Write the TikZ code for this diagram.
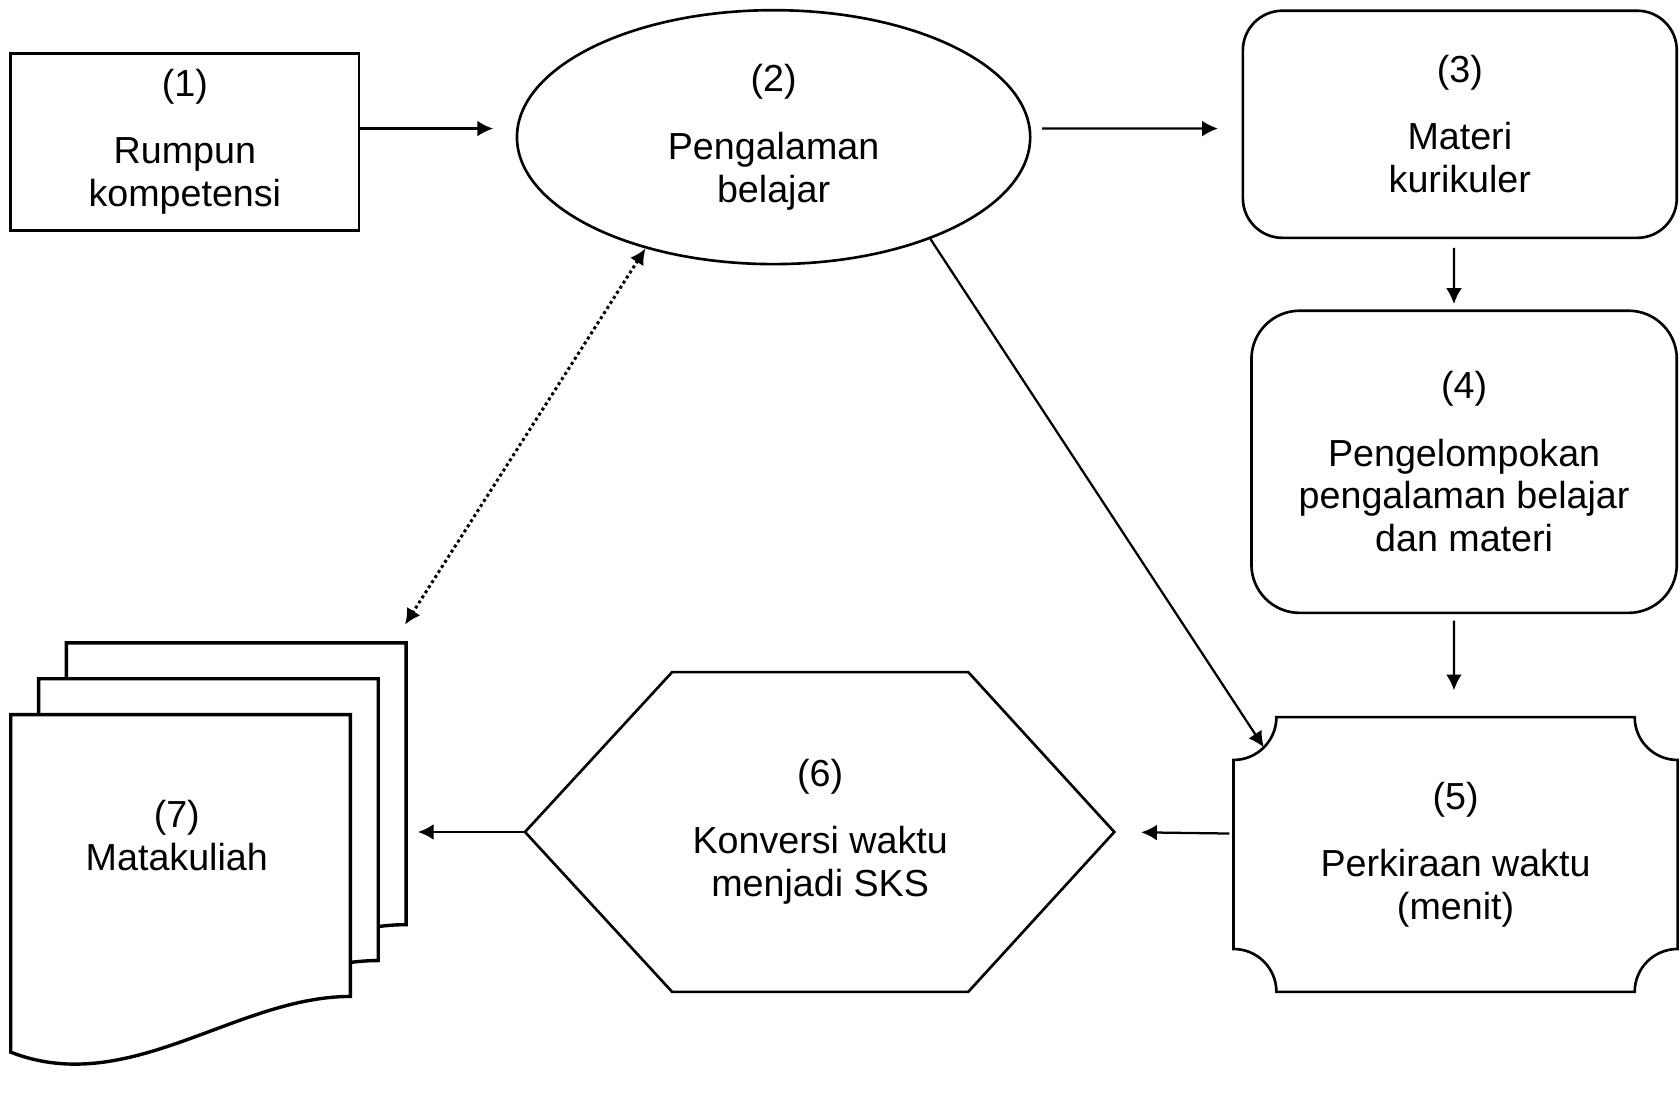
\documentclass[tikz,border=0pt]{standalone}
\usepackage{fontspec}
\setmainfont{Liberation Sans}
\usetikzlibrary{shapes.geometric,arrows.meta}

\tikzset{
  box/.style={draw,line width=0.7pt,align=center,inner sep=0pt},
  txt/.style={align=center,inner sep=0pt},
  conn/.style={->,line width=0.6pt},
}

\begin{document}
\begin{tikzpicture}[>={Latex[length=4.2pt,width=4.2pt]},font=\fontsize{10}{11.4}\selectfont]

\fill[white] (0,0) rectangle (15.68,-9.95);

% (1) .. (4)
\node[box,minimum width=3.25cm,minimum height=1.65cm] (n1) at (1.725,-1.325) {(1)\\[6.5pt]Rumpun\\kompetensi};
\node[box,ellipse,minimum width=4.79cm,minimum height=2.37cm] (n2) at (7.22,-1.28) {(2)\\[6.5pt]Pengalaman\\belajar};
\node[box,rounded corners=0.37cm,minimum width=4.05cm,minimum height=2.12cm] (n3) at (13.625,-1.16) {(3)\\[6.5pt]Materi\\kurikuler};
\node[box,rounded corners=0.45cm,minimum width=3.97cm,minimum height=2.82cm] (n4) at (13.665,-4.31) {(4)\\[6.5pt]Pengelompokan\\pengalaman belajar\\dan materi};

% (5)
\node[txt,minimum width=4.13cm,minimum height=2.55cm] (n5) at (13.585,-7.975) {(5)\\[6.5pt]Perkiraan waktu\\(menit)};
\draw[line width=0.7pt]
	  ([yshift=-0.4cm]n5.north west) arc[start angle=-90,end angle=0,radius=0.4cm]
	--([xshift=-0.4cm]n5.north east) arc[start angle=180,end angle=270,radius=0.4cm]
	--([yshift=0.4cm]n5.south east) arc[start angle=90,end angle=180,radius=0.4cm]
	--([xshift=0.4cm]n5.south west) arc[start angle=0,end angle=90,radius=0.4cm]
	--cycle;
\coordinate (c5) at ([shift={(0.283,-0.283)}]n5.north west);

% (6)
\node[txt,minimum width=2.75cm,minimum height=2.97cm] (n6) at (7.655,-7.765) {(6)\\[6.5pt]Konversi waktu\\menjadi SKS};
\coordinate (h6l) at (4.90,-7.765);
\coordinate (h6r) at (10.40,-7.765);
\draw[line width=0.7pt] (h6l)--(n6.north west)--(n6.north east)--(h6r)--(n6.south east)--(n6.south west)--cycle;

% (7)
\foreach \dx/\dy in {0.52/0.67,0.26/0.335,0/0}
  \draw[line width=0.9pt,fill=white,shift={(\dx,\dy)}]
	  (0.10,-9.82)--(0.10,-6.67)--(3.27,-6.67)--(3.27,-9.30)
	.. controls (2.20,-9.30) and (1.20,-10.25) .. (0.10,-9.82)--cycle;
\node[txt] (n7) at (1.65,-7.80) {(7)\\Matakuliah};
\coordinate (d7a) at (3.78,-5.83);
\coordinate (d7b) at (3.90,-7.765);

% connectors
\draw[conn,shorten >=0.21cm] ([yshift=0.125cm]n1.east)--([yshift=0.08cm]n2.west);
\draw[conn,shorten <=0.1cm,shorten >=0.22cm] ([yshift=0.08cm]n2.east)--([yshift=-0.04cm]n3.west);
\draw[conn,shorten <=0.08cm,shorten >=0.05cm] ([xshift=-0.055cm]n3.south)--([xshift=-0.095cm]n4.north);
\draw[conn,shorten <=0.06cm,shorten >=0.25cm] ([xshift=-0.095cm]n4.south)--([xshift=-0.015cm]n5.north);
\draw[conn,shorten <=0.04cm,shorten >=0.25cm] ([yshift=0.195cm]n5.west)--(h6r);
\draw[conn] (h6l)--(d7b);
\draw[conn] (n2.-33)--(c5);
\draw[<->,line width=0.8pt,dash pattern=on 0.8pt off 0.8pt] (n2.221)--(d7a);

\end{tikzpicture}
\end{document}
